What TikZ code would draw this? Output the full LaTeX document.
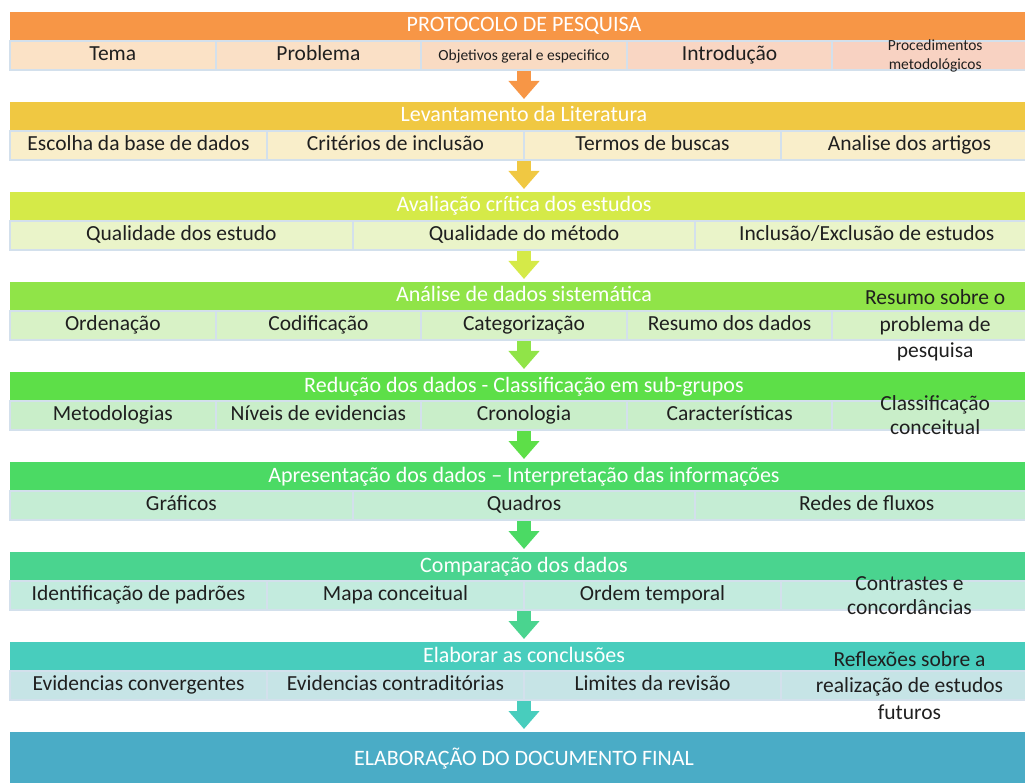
\documentclass[tikz,border=0pt]{standalone}
\usepackage{fontspec}
\setmainfont{Carlito}
\usepackage{tikz}
\usetikzlibrary{positioning,arrows.meta}

\definecolor{hdA}{HTML}{F79646}
\definecolor{hdB}{HTML}{F0C842}
\definecolor{hdC}{HTML}{D5EA48}
\definecolor{hdD}{HTML}{90E448}
\definecolor{hdE}{HTML}{5DDF48}
\definecolor{hdF}{HTML}{4BDA64}
\definecolor{hdG}{HTML}{4AD48F}
\definecolor{hdH}{HTML}{48CDBD}
\definecolor{fin}{HTML}{4AACC6}
\definecolor{cA1}{HTML}{FBE2C6}
\definecolor{cA2}{HTML}{FAE0C6}
\definecolor{cA3}{HTML}{F9DBC3}
\definecolor{cA4}{HTML}{F9D6C3}
\definecolor{cA5}{HTML}{F8D2C2}
\definecolor{cB}{HTML}{F9EECA}
\definecolor{cC}{HTML}{EAF4C9}
\definecolor{cD}{HTML}{D8F2C6}
\definecolor{cE}{HTML}{C9EEC9}
\definecolor{cF}{HTML}{C5EDD4}
\definecolor{cG}{HTML}{C3EBDE}
\definecolor{cH}{HTML}{C6E4E6}
\definecolor{rim}{HTML}{D3E0EC}
\definecolor{ink}{HTML}{1F1F1F}

\newcommand{\bigtxt}{\fontsize{21.5}{25}\selectfont}
\newcommand{\headtxt}{\fontsize{22}{25}\selectfont}
\newcommand{\widetxt}{\fontsize{21.5}{26.5}\selectfont}
\newcommand{\smalltxt}{\fontsize{15.5}{19}\selectfont}

\tikzset{
  hdbar/.style={anchor=north west, minimum width=1028pt, minimum height=28pt,
    inner sep=0pt, outer sep=0pt, text=white, font=\headtxt,
    text height=15pt, text depth=3pt},
  cellbox/.style={anchor=north west, minimum height=29pt, inner sep=0pt,
    outer sep=0pt, draw=rim, line width=2pt, text=ink, font=\bigtxt},
  cell/.style={cellbox, text height=14pt, text depth=4pt},
  note/.style={align=center, text=ink, font=\widetxt, inner sep=0pt},
  flow/.style={line width=14pt, -{Triangle[width=30pt,length=18pt]},
    shorten <=1pt, shorten >=3pt},
}

\begin{document}
\begin{tikzpicture}[x=1pt,y=-1pt]
  \useasboundingbox (0,0) rectangle (1025,783);

  \node[hdbar, fill=hdA] (prot) at (10,12) {PROTOCOLO DE PESQUISA};
  \node[cell, fill=cA1, minimum width=205.6pt] (tema) at ([yshift=-1pt]prot.south west) {Tema};
  \node[cell, fill=cA2, minimum width=205.6pt, right=0pt of tema] (prob) {Problema};
  \node[cell, fill=cA3, minimum width=205.6pt, right=0pt of prob, font=\smalltxt] (obj) {Objetivos geral e especifico};
  \node[cell, fill=cA4, minimum width=205.6pt, right=0pt of obj] (intro) {Introdução};
  \node[cellbox, fill=cA5, minimum width=205.6pt, right=0pt of intro] (proc) {};
  \node[note, font=\smalltxt] (proctxt) at (proc) {Procedimentos\\metodológicos};

  \node[hdbar, fill=hdB] (lev) at (10,102) {Levantamento da Literatura};
  \node[cell, fill=cB, minimum width=257pt] (base) at ([yshift=-1pt]lev.south west) {Escolha da base de dados};
  \node[cell, fill=cB, minimum width=257pt, right=0pt of base] (crit) {Critérios de inclusão};
  \node[cell, fill=cB, minimum width=257pt, right=0pt of crit] (termos) {Termos de buscas};
  \node[cell, fill=cB, minimum width=257pt, right=0pt of termos] (artigos) {Analise dos artigos};

  \node[hdbar, fill=hdC] (aval) at (10,192) {Avaliação crítica dos estudos};
  \node[cell, fill=cC, minimum width=342.7pt] (qest) at ([yshift=-1pt]aval.south west) {Qualidade dos estudo};
  \node[cell, fill=cC, minimum width=342.7pt, right=0pt of qest] (qmet) {Qualidade do método};
  \node[cell, fill=cC, minimum width=342.7pt, right=0pt of qmet] (incl) {Inclusão/Exclusão de estudos};

  \node[hdbar, fill=hdD] (anal) at (10,282) {Análise de dados sistemática};
  \node[cell, fill=cD, minimum width=205.6pt] (ord) at ([yshift=-1pt]anal.south west) {Ordenação};
  \node[cell, fill=cD, minimum width=205.6pt, right=0pt of ord] (cod) {Codificação};
  \node[cell, fill=cD, minimum width=205.6pt, right=0pt of cod] (cat) {Categorização};
  \node[cell, fill=cD, minimum width=205.6pt, right=0pt of cat] (resd) {Resumo dos dados};
  \node[cellbox, fill=cD, minimum width=205.6pt, right=0pt of resd] (resp) {};
  \node[note] (resptxt) at (resp) {Resumo sobre o\\problema de\\pesquisa};

  \node[hdbar, fill=hdE] (red) at (10,372) {Redução dos dados - Classificação em sub-grupos};
  \node[cell, fill=cE, minimum width=205.6pt] (met) at ([yshift=-1pt]red.south west) {Metodologias};
  \node[cell, fill=cE, minimum width=205.6pt, right=0pt of met] (niv) {Níveis de evidencias};
  \node[cell, fill=cE, minimum width=205.6pt, right=0pt of niv] (cron) {Cronologia};
  \node[cell, fill=cE, minimum width=205.6pt, right=0pt of cron] (car) {Características};
  \node[cellbox, fill=cE, minimum width=205.6pt, right=0pt of car] (clas) {};
  \node[note, font=\fontsize{21.5}{24}\selectfont] (clastxt) at (clas) {Classificação\\conceitual};

  \node[hdbar, fill=hdF] (apr) at (10,462) {Apresentação dos dados -- Interpretação das informações};
  \node[cell, fill=cF, minimum width=342.7pt] (graf) at ([yshift=-1pt]apr.south west) {Gráficos};
  \node[cell, fill=cF, minimum width=342.7pt, right=0pt of graf] (quad) {Quadros};
  \node[cell, fill=cF, minimum width=342.7pt, right=0pt of quad] (redes) {Redes de fluxos};

  \node[hdbar, fill=hdG] (comp) at (10,552) {Comparação dos dados};
  \node[cell, fill=cG, minimum width=257pt] (pad) at ([yshift=-1pt]comp.south west) {Identificação de padrões};
  \node[cell, fill=cG, minimum width=257pt, right=0pt of pad] (mapa) {Mapa conceitual};
  \node[cell, fill=cG, minimum width=257pt, right=0pt of mapa] (temp) {Ordem temporal};
  \node[cellbox, fill=cG, minimum width=257pt, right=0pt of temp] (contr) {};
  \node[note, font=\fontsize{21.5}{24}\selectfont] (contrtxt) at (contr) {Contrastes e\\concordâncias};

  \node[hdbar, fill=hdH] (elab) at (10,642) {Elaborar as conclusões};
  \node[cell, fill=cH, minimum width=257pt] (conv) at ([yshift=-1pt]elab.south west) {Evidencias convergentes};
  \node[cell, fill=cH, minimum width=257pt, right=0pt of conv] (contra) {Evidencias contraditórias};
  \node[cell, fill=cH, minimum width=257pt, right=0pt of contra] (lim) {Limites da revisão};
  \node[cellbox, fill=cH, minimum width=257pt, right=0pt of lim] (refl) {};
  \node[note] (refltxt) at (refl) {Reflexões sobre a\\realização de estudos\\futuros};

  \node[hdbar, fill=fin, minimum height=52pt, text height=14pt, text depth=0pt] (fim) at (10,732) {ELABORAÇÃO DO DOCUMENTO FINAL};

  \draw[flow, draw=hdA] (obj.south -| prot.north) -- (lev.north);
  \draw[flow, draw=hdB] (crit.south -| lev.north) -- (aval.north);
  \draw[flow, draw=hdC] (qmet.south -| aval.north) -- (anal.north);
  \draw[flow, draw=hdD] (cat.south -| anal.north) -- (red.north);
  \draw[flow, draw=hdE] (cron.south -| red.north) -- (apr.north);
  \draw[flow, draw=hdF] (quad.south -| apr.north) -- (comp.north);
  \draw[flow, draw=hdG] (mapa.south -| comp.north) -- (elab.north);
  \draw[flow, draw=hdH] (contra.south -| elab.north) -- (fim.north);
\end{tikzpicture}
\end{document}
